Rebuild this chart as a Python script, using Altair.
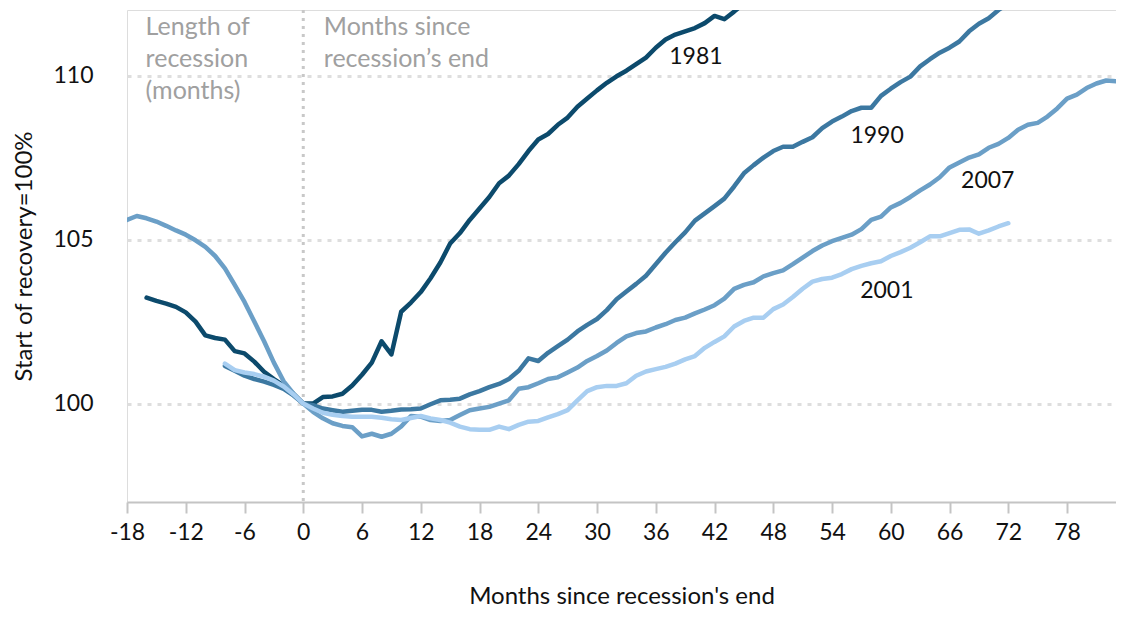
import altair as alt
import pandas as pd

# ---- data (months since recession's end, index start of recovery = 100) ----
MONTHS_1981 = list(range(-16, 46))
VALUES_1981 = [103.23, 103.13, 103.05, 102.95, 102.78, 102.5, 102.08, 102.0, 101.95, 101.6,
               101.53, 101.28, 100.97, 100.75, 100.55, 100.3, 100.0,
               100.0, 100.2, 100.22, 100.3, 100.55, 100.88, 101.25, 101.9, 101.5, 102.8,
               103.08, 103.4, 103.82, 104.3, 104.88, 105.2, 105.6, 105.95, 106.3, 106.72,
               106.95, 107.3, 107.7, 108.05, 108.22, 108.5, 108.72, 109.05, 109.3, 109.55,
               109.78, 109.98, 110.15, 110.35, 110.55, 110.85, 111.1, 111.25, 111.35, 111.45,
               111.6, 111.82, 111.72, 111.95, 112.2]

MONTHS_1990 = list(range(-8, 73))
VALUES_1990 = [101.15, 101.0, 100.85, 100.75, 100.67, 100.57, 100.45, 100.25, 100.0,
               99.95, 99.85, 99.8, 99.75, 99.78, 99.81, 99.81, 99.75, 99.78, 99.82,
               99.83, 99.85, 99.98, 100.1, 100.12, 100.15, 100.28, 100.38, 100.5, 100.6,
               100.75, 101.0,
               101.38, 101.3, 101.55, 101.75, 101.95, 102.2, 102.4, 102.58, 102.85, 103.18,
               103.42, 103.65, 103.9, 104.25, 104.6, 104.92, 105.22, 105.58, 105.8, 106.02,
               106.25, 106.62, 107.02, 107.27, 107.5, 107.7, 107.83, 107.83, 107.98, 108.12,
               108.4, 108.6, 108.75, 108.92, 109.02, 109.02, 109.38, 109.6, 109.8, 109.97,
               110.28, 110.5, 110.7, 110.85, 111.04, 111.35, 111.58, 111.75, 112.0, 112.2]

MONTHS_2001 = list(range(-8, 73))
VALUES_2001 = [101.22, 101.02, 100.95, 100.9, 100.82, 100.7, 100.52, 100.28, 100.0,
               99.85, 99.72, 99.66, 99.62, 99.6, 99.6, 99.6, 99.57, 99.52, 99.5,
               99.56, 99.62, 99.55, 99.5, 99.42, 99.3, 99.22, 99.2, 99.2, 99.3,
               99.22, 99.35, 99.45, 99.47, 99.58, 99.68, 99.8, 100.1, 100.38, 100.5,
               100.54, 100.54, 100.62, 100.85, 100.98, 101.05, 101.12, 101.22, 101.35, 101.45,
               101.7, 101.88, 102.05, 102.35, 102.52, 102.62, 102.62, 102.88, 103.02, 103.25,
               103.5, 103.72, 103.8, 103.84, 103.95, 104.1, 104.2, 104.28, 104.34, 104.5,
               104.62, 104.75, 104.92, 105.1, 105.1, 105.2, 105.3, 105.31, 105.18, 105.28,
               105.4, 105.5]

MONTHS_2007 = list(range(-18, 84))
VALUES_2007 = [105.6, 105.72, 105.65, 105.55, 105.42, 105.28, 105.15, 104.98, 104.78, 104.5,
               104.12, 103.62, 103.1, 102.5, 101.9, 101.25, 100.68, 100.3, 100.0,
               99.75, 99.55, 99.4, 99.32, 99.28, 99.0, 99.08, 98.99, 99.08, 99.3,
               99.62, 99.6, 99.5, 99.47, 99.5, 99.65, 99.8, 99.85, 99.9, 100.0,
               100.1, 100.45, 100.5, 100.62, 100.75, 100.8, 100.95, 101.1, 101.3, 101.45,
               101.62, 101.85, 102.05, 102.15, 102.2, 102.32, 102.42, 102.55, 102.62, 102.75,
               102.87, 103.0, 103.2, 103.5, 103.62, 103.7, 103.88, 103.98, 104.06, 104.25,
               104.45, 104.65, 104.82, 104.95, 105.05, 105.15, 105.32, 105.6, 105.7, 105.98,
               106.12, 106.3, 106.5, 106.68, 106.9, 107.2, 107.35, 107.5, 107.6, 107.8,
               107.92, 108.1, 108.35, 108.5, 108.56, 108.75, 109.0, 109.3, 109.42, 109.62,
               109.76, 109.85, 109.83]

SERIES = ["1981", "2007", "1990", "2001"]          # drawing order (last on top)
COLORS = {"1981": "#0c4a6c", "1990": "#3c78a1", "2007": "#6b9fc7", "2001": "#a8cef1"}

X_TICKS = list(range(-18, 79, 6))
Y_TICKS = [100, 105, 110]

YEAR_LABELS = ["1981", "1990", "2007", "2001"]
YEAR_LABEL_X = [40.1, 58.6, 69.9, 59.6]
YEAR_LABEL_Y = [110.56, 108.17, 106.78, 103.43]

NOTE_TEXT = ["Length of\nrecession\n(months)", "Months since\nrecession\u2019s end"]
NOTE_X = [-16.1, 2.1]
NOTE_Y = [111.24, 111.24]

# ---- build table ----
frames = []
for name, m, v in [("1981", MONTHS_1981, VALUES_1981), ("1990", MONTHS_1990, VALUES_1990),
                   ("2001", MONTHS_2001, VALUES_2001), ("2007", MONTHS_2007, VALUES_2007)]:
    frames.append(pd.DataFrame({"month": m, "value": v, "series": name}))
df = pd.concat(frames, ignore_index=True)

labels_df = pd.DataFrame({"label": YEAR_LABELS, "x": YEAR_LABEL_X, "y": YEAR_LABEL_Y})
notes_df = pd.DataFrame({"label": NOTE_TEXT, "x": NOTE_X, "y": NOTE_Y})

FONT = "Lato"
W, H = 989, 492

x_scale = alt.Scale(domain=[-18, 83], nice=False, zero=False)
y_scale = alt.Scale(domain=[97, 112], nice=False, zero=False)

x_axis = alt.Axis(values=X_TICKS, title="Months since recession's end", grid=False,
                  labelOverlap=False, labelFlush=False, labelExpr="'' + datum.value",
                  domainColor="#c4c4c4", domainWidth=2, tickColor="#c4c4c4", tickWidth=2,
                  tickSize=11, labelFontSize=23, labelColor="#111111", labelPadding=8,
                  labelFont=FONT, titleFont=FONT, titleFontSize=24, titleFontWeight="normal",
                  titleColor="#111111", titleY=101, titleBaseline="alphabetic")
y_axis = alt.Axis(values=Y_TICKS, title="Start of recovery=100%", grid=True,
                  labelOverlap=False,
                  gridColor="#dedede", gridWidth=3, gridDash=[4, 6], domain=False, ticks=False,
                  tickSize=0, labelPadding=34, labelFontSize=23, labelColor="#111111",
                  labelFont=FONT, titleFont=FONT, titleFontSize=24, titleFontWeight="normal",
                  titleColor="#111111", titleX=-103, titleY=246, titleAngle=-90,
                  titleAlign="center", titleBaseline="middle")

base = alt.Chart(df)

axes_layer = alt.Chart(pd.DataFrame({"x": [0], "y": [100]})).mark_point(opacity=0).encode(
    x=alt.X("x:Q", scale=x_scale, axis=x_axis),
    y=alt.Y("y:Q", scale=y_scale, axis=y_axis),
)

zero_rule = alt.Chart(pd.DataFrame({"x": [0]})).mark_rule(
    color="#c8c8c8", strokeWidth=3, strokeDash=[3, 5]
).encode(x=alt.X("x:Q", scale=x_scale))

line_layers = []
for s in SERIES:
    line_layers.append(
        base.transform_filter(alt.datum.series == s).mark_line(
            color=COLORS[s], strokeWidth=4.5, clip=True, strokeJoin="round", strokeCap="round"
        ).encode(
            x=alt.X("month:Q", scale=x_scale),
            y=alt.Y("value:Q", scale=y_scale),
        )
    )

year_text = alt.Chart(labels_df).mark_text(
    font=FONT, fontSize=23, color="#111111", align="center", baseline="middle"
).encode(x=alt.X("x:Q", scale=x_scale), y=alt.Y("y:Q", scale=y_scale), text="label:N")

note_text = alt.Chart(notes_df).mark_text(
    font=FONT, fontSize=25, color="#a0a0a0", align="left", baseline="alphabetic",
    lineBreak="\n", lineHeight=32
).encode(x=alt.X("x:Q", scale=x_scale), y=alt.Y("y:Q", scale=y_scale), text="label:N")

chart = alt.layer(axes_layer, zero_rule, *line_layers, year_text, note_text).properties(
    width=W, height=H,
    autosize=alt.AutoSizeParams(type="none"),
    padding={"left": 119, "top": 2, "right": 0, "bottom": 108},
).configure_view(stroke=None).configure(font=FONT)

chart.save("out.html", embed_options={"renderer": "svg", "actions": False})
